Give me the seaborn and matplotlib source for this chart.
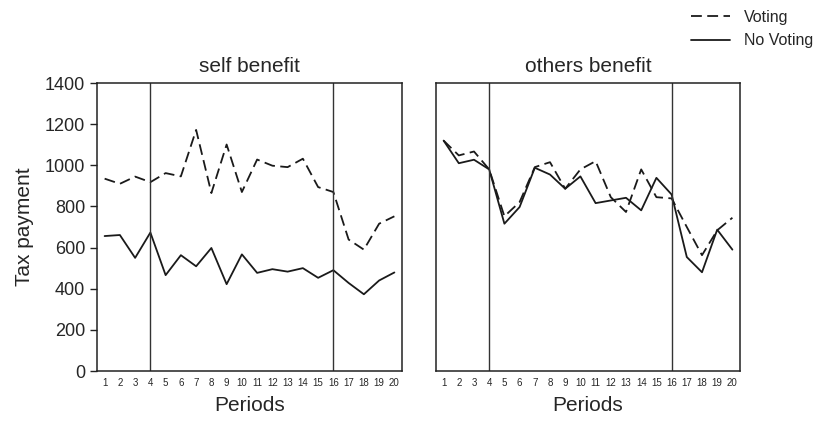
import numpy as np
import pandas as pd
import matplotlib
matplotlib.use("Agg")
import matplotlib.pyplot as plt
import seaborn as sns

periods = list(range(1, 21))

self_voting = [935, 910, 945, 918, 962, 946, 1172, 865, 1101, 870,
               1028, 998, 991, 1032, 894, 870, 639, 590, 716, 752]
self_no_voting = [656, 661, 550, 673, 466, 563, 509, 598, 422, 567,
                  477, 495, 483, 500, 453, 490, 428, 373, 440, 479]
others_voting = [1120, 1048, 1067, 980, 752, 821, 991, 1015, 886, 980,
                 1020, 845, 773, 980, 845, 839, 700, 563, 684, 745]
others_no_voting = [1120, 1010, 1027, 980, 716, 797, 988, 955, 886, 946,
                    816, 829, 842, 781, 939, 858, 554, 480, 687, 590]

panel_titles = ["self benefit", "others benefit"]
series_names = ["Voting", "No Voting"]
break_periods = [4, 16]
y_ticks = [0, 200, 400, 600, 800, 1000, 1200, 1400]

sns.set_style("white")
plt.rcParams["font.family"] = ["Liberation Sans", "DejaVu Sans"]

def long_df(voting, no_voting):
    return pd.DataFrame({
        "Period": periods * 2,
        "Tax": voting + no_voting,
        "Condition": [series_names[0]] * 20 + [series_names[1]] * 20,
    })

frames = [long_df(self_voting, self_no_voting), long_df(others_voting, others_no_voting)]

fig = plt.figure(figsize=(8.23, 4.24), dpi=100)
ax1 = fig.add_axes([97 / 823, 53 / 424, 305 / 823, 288 / 424])
ax2 = fig.add_axes([436 / 823, 53 / 424, 304 / 823, 288 / 424])

dash_map = {"Voting": (6, 3), "No Voting": ""}

for i, (ax, df) in enumerate(zip([ax1, ax2], frames)):
    sns.lineplot(data=df, x="Period", y="Tax", style="Condition",
                 style_order=series_names, dashes=dash_map,
                 color="#1a1a1a", linewidth=1.3, ax=ax, legend=False)
    for bp in break_periods:
        ax.axvline(bp, color="#333333", linewidth=1.0)
    ax.set_xlim(0.5, 20.5)
    ax.set_ylim(0, 1400)
    ax.set_xticks(np.arange(0.5, 21, 1.0))
    ax.set_xticklabels([])
    ax.set_xticks(periods, minor=True)
    ax.set_xticklabels([str(p) for p in periods], minor=True, fontsize=7)
    ax.tick_params(axis="x", which="major", direction="out", length=4,
                   width=1, color="#222222")
    ax.tick_params(axis="x", which="minor", length=0, pad=5)
    ax.set_xlabel("Periods", fontsize=15, labelpad=6)
    ax.set_title(panel_titles[i], fontsize=15, pad=8)
    for s in ax.spines.values():
        s.set_visible(True)
        s.set_color("#222222")
        s.set_linewidth(1.1)

ax1.set_yticks(y_ticks)
ax1.set_yticklabels([str(t) for t in y_ticks], fontsize=13)
ax1.tick_params(axis="y", direction="out", length=5, width=1, color="#222222", left=True)
ax1.set_ylabel("Tax payment", fontsize=15, labelpad=8)

ax2.set_yticks(y_ticks)
ax2.set_yticklabels([])
ax2.tick_params(axis="y", length=0)
ax2.set_ylabel("")

from matplotlib.lines import Line2D
handles = [
    Line2D([0], [0], color="#1a1a1a", linewidth=1.3, dashes=(6, 3)),
    Line2D([0], [0], color="#1a1a1a", linewidth=1.3),
]
fig.legend(handles, series_names, loc="upper right",
           bbox_to_anchor=(1.0, 1.0), frameon=False, fontsize=11.5,
           handlelength=2.4, labelspacing=0.55, handletextpad=0.9,
           borderaxespad=0.2)

fig.savefig("out.png", dpi=100)
